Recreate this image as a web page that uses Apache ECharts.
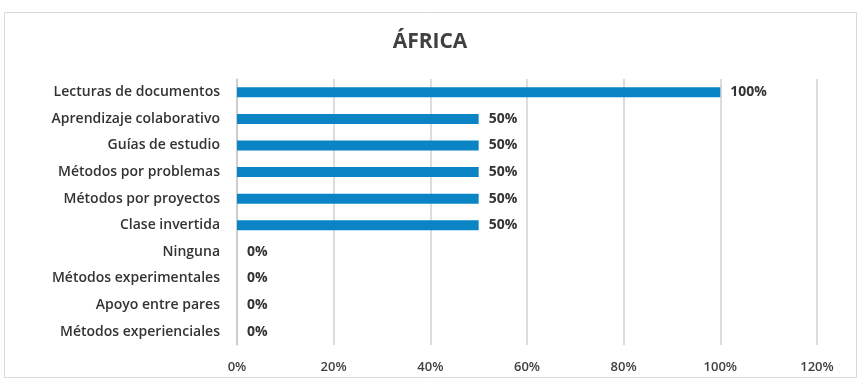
<!DOCTYPE html>
<html>
<head>
<meta charset="utf-8">
<script src="https://cdn.jsdelivr.net/npm/echarts@6/dist/echarts.min.js"></script>
<style>
  html, body { margin: 0; padding: 0; background: #fff; }
  #chart { width: 860px; height: 381px; }
</style>
</head>
<body>
<div id="chart"></div>
<script>
var categories = [
  'Lecturas de documentos',
  'Aprendizaje colaborativo',
  'Guías de estudio',
  'Métodos por problemas',
  'Métodos por proyectos',
  'Clase invertida',
  'Ninguna',
  'Métodos experimentales',
  'Apoyo entre pares',
  'Métodos experienciales'
];
var values = [100, 50, 50, 50, 50, 50, 0, 0, 0, 0];
var xTicks = [0, 20, 40, 60, 80, 100, 120];

var chart = echarts.init(document.getElementById('chart'));
var font = "'Open Sans', 'Liberation Sans', sans-serif";

chart.setOption({
  animation: false,
  // marco gris alrededor
  graphic: [{
    type: 'rect',
    shape: { x: 4.5, y: 12.5, width: 852, height: 365 },
    style: { fill: 'none', stroke: '#d9d9d9', lineWidth: 1 },
    silent: true
  }],
  title: {
    text: 'ÁFRICA',
    left: 'center',
    top: 27,
    textStyle: { fontFamily: font, fontSize: 21, fontWeight: 'bold', color: '#404040' }
  },
  grid: { left: 237, right: 43, top: 79, bottom: 36 },
  xAxis: {
    type: 'value',
    min: xTicks[0],
    max: xTicks[xTicks.length - 1],
    interval: 20,
    axisLine: { show: false },
    axisTick: { show: false },
    axisLabel: {
      formatter: '{value}%',
      margin: 16,
      fontFamily: font,
      fontSize: 13,
      fontWeight: 600,
      color: '#404040'
    },
    splitLine: { lineStyle: { color: '#d0d0d0', width: 1.5 } }
  },
  yAxis: {
    type: 'category',
    data: categories,
    inverse: true,
    axisLine: { show: true, lineStyle: { color: '#c8c8c8', width: 1.5 } },
    axisTick: { show: false },
    axisLabel: {
      margin: 17,
      fontFamily: font,
      fontSize: 14,
      fontWeight: 600,
      color: '#333333'
    }
  },
  series: [{
    type: 'bar',
    data: values,
    barWidth: 10,
    itemStyle: { color: '#0b84c6' },
    label: {
      show: true,
      position: 'right',
      distance: 10,
      formatter: '{c}%',
      fontFamily: font,
      fontSize: 14,
      fontWeight: 'bold',
      color: '#333333'
    }
  }]
});
</script>
</body>
</html>
